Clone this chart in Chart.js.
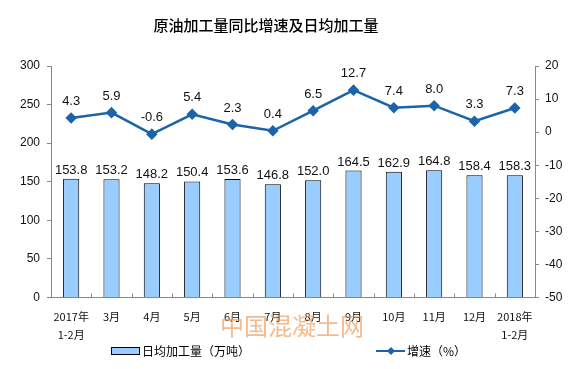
<!DOCTYPE html>
<html>
<head>
<meta charset="utf-8">
<script src="https://cdn.jsdelivr.net/npm/chart.js@4/dist/chart.umd.min.js"></script>
<style>
  body { margin: 0; background: #fff; }
  #wrap { width: 580px; height: 369px; }
</style>
</head>
<body>
<div id="wrap"><canvas id="oilChart"></canvas></div>
<script>
// categories
var months = [["2017年", "1-2月"], "3月", "4月", "5月", "6月", "7月", "8月", "9月", "10月", "11月", "12月", ["2018年", "1-2月"]];
// daily processing volume (10k tons)
var dailyVolume = [153.8, 153.2, 148.2, 150.4, 153.6, 146.8, 152.0, 164.5, 162.9, 164.8, 158.4, 158.3];
// year-on-year growth (%)
var growthRate = [4.3, 5.9, -0.6, 5.4, 2.3, 0.4, 6.5, 12.7, 7.4, 8.0, 3.3, 7.3];

var chartTitle = "原油加工量同比增速及日均加工量";
var barLabel = "日均加工量（万吨）";
var lineLabel = "增速（%）";
var watermark = "中国混凝土网";

var barColor = "#99CCFF";
var lineColor = "#1C64A8";
var cjk = "'Noto Sans CJK SC', sans-serif";
var num = "Arial, 'Liberation Sans', sans-serif";

// value labels, title, legend and watermark
var extras = {
  id: "extras",
  afterDatasetsDraw: function (chart) {
    var ctx = chart.ctx;
    ctx.save();
    ctx.textAlign = "center";
    ctx.textBaseline = "alphabetic";
    ctx.font = "13px " + num;
    ctx.fillStyle = "#111";
    chart.getDatasetMeta(1).data.forEach(function (bar, i) {
      ctx.fillText(dailyVolume[i].toFixed(1), bar.x, bar.y - 5);
    });
    chart.getDatasetMeta(0).data.forEach(function (pt, i) {
      ctx.fillText(growthRate[i].toFixed(1), pt.x, pt.y - 13);
    });
    ctx.restore();
  },
  afterDraw: function (chart) {
    var ctx = chart.ctx;
    ctx.save();
    // title
    ctx.fillStyle = "#000";
    ctx.font = "500 15px " + cjk;
    ctx.textAlign = "center";
    ctx.textBaseline = "middle";
    ctx.fillText(chartTitle, 266, 25);

    // watermark
    ctx.fillStyle = "rgba(240,150,80,0.65)";
    ctx.font = "24px " + cjk;
    ctx.fillText(watermark, 292, 326);

    // legend
    ctx.textAlign = "left";
    ctx.fillStyle = barColor;
    ctx.fillRect(111, 347, 29, 8);
    ctx.strokeStyle = "#000";
    ctx.lineWidth = 1;
    ctx.strokeRect(111.5, 347.5, 28, 7);
    ctx.fillStyle = "#000";
    ctx.font = "12px " + cjk;
    ctx.fillText(barLabel, 142, 351);

    ctx.strokeStyle = lineColor;
    ctx.lineWidth = 2;
    ctx.beginPath();
    ctx.moveTo(376, 351);
    ctx.lineTo(405, 351);
    ctx.stroke();
    ctx.fillStyle = lineColor;
    ctx.beginPath();
    ctx.moveTo(391, 347);
    ctx.lineTo(395, 351);
    ctx.lineTo(391, 355);
    ctx.lineTo(387, 351);
    ctx.closePath();
    ctx.fill();
    ctx.fillStyle = "#000";
    ctx.fillText(lineLabel, 407, 351);

    // small category divider ticks on the x axis
    var x = chart.scales.x, area = chart.chartArea;
    ctx.strokeStyle = "#888";
    ctx.lineWidth = 1;
    for (var i = 1; i < months.length; i++) {
      var px = Math.round((x.getPixelForValue(i - 1) + x.getPixelForValue(i)) / 2) + 0.5;
      ctx.beginPath();
      ctx.moveTo(px, area.bottom);
      ctx.lineTo(px, area.bottom - 4);
      ctx.stroke();
    }
    ctx.restore();
  }
};

new Chart(document.getElementById("oilChart"), {
  data: {
    labels: months,
    datasets: [
      {
        type: "line",
        label: lineLabel,
        data: growthRate,
        yAxisID: "y1",
        borderColor: lineColor,
        backgroundColor: lineColor,
        borderWidth: 2.5,
        pointStyle: "rectRot",
        pointRadius: 4,
        pointHoverRadius: 4,
        tension: 0,
        order: 0
      },
      {
        type: "bar",
        label: barLabel,
        data: dailyVolume,
        yAxisID: "y",
        backgroundColor: barColor,
        borderColor: "#000",
        borderWidth: 1,
        barPercentage: 0.4,
        categoryPercentage: 1,
        order: 1
      }
    ]
  },
  options: {
    responsive: true,
    maintainAspectRatio: false,
    animation: false,
    events: [],
    layout: { padding: { top: 66, bottom: 21.5, left: 0, right: 0 } },
    plugins: { legend: { display: false }, title: { display: false }, tooltip: { enabled: false } },
    scales: {
      x: {
        grid: { display: false },
        border: { display: true, color: "#888" },
        ticks: { color: "#111", font: { family: cjk, size: 11, lineHeight: 1.6 }, padding: 3, maxRotation: 0, autoSkip: false },
        afterFit: function (s) { s.height = 50; }
      },
      y: {
        position: "left",
        min: 0, max: 300,
        ticks: { stepSize: 50, color: "#111", font: { family: num, size: 12 }, padding: 7 },
        grid: { drawOnChartArea: false, tickLength: 4, color: "#888" },
        border: { display: true, color: "#888" },
        afterFit: function (s) { s.width = 51; }
      },
      y1: {
        position: "right",
        min: -50, max: 20,
        ticks: { stepSize: 10, color: "#111", font: { family: num, size: 12 }, padding: 6 },
        grid: { drawOnChartArea: false, tickLength: 4, color: "#888" },
        border: { display: true, color: "#888" },
        afterFit: function (s) { s.width = 45; }
      }
    }
  },
  plugins: [extras]
});
</script>
</body>
</html>
